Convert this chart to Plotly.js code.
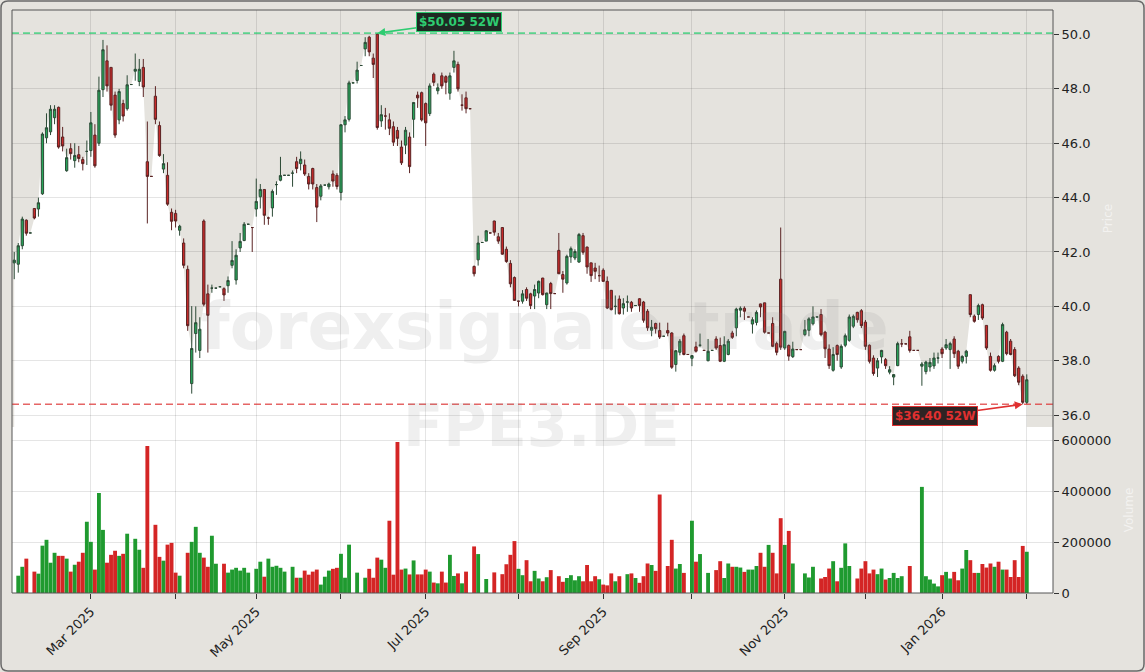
<!DOCTYPE html>
<html><head><meta charset="utf-8">
<script src="https://cdn.plot.ly/plotly-3.0.1.min.js"></script>
<style>html,body{margin:0;padding:0;background:#e5e3de;} #chart{width:1145px;height:672px;}</style>
</head><body><div id="chart"></div>
<script>
// ---- calendar (Xetra trading days) ----
const startDate = '2025-02-04';
const endDate = '2026-02-02';
const holidays = ['2025-04-18','2025-04-21','2025-05-01','2025-12-24','2025-12-25','2025-12-26','2025-12-31','2026-01-01'];
const tickMonths = ['2025-03','2025-04','2025-05','2025-06','2025-07','2025-08','2025-09','2025-10','2025-11','2025-12','2026-01','2026-02'];
const tickLabels = ['Mar 2025','','May 2025','','Jul 2025','','Sep 2025','','Nov 2025','','Jan 2026',''];

// ---- OHLC ----
const open = [
41.6,41.55,42.23,43.17,42.7,43.6,43.58,44.14,46.2,46.42,
46.94,47.32,46.23,44.99,45.8,45.36,45.58,45.4,45.7,45.73,
46.3,46.0,47.97,49.03,48.79,47.77,46.86,47.46,47.27,48.16,
48.65,48.27,48.79,45.32,44.78,47.73,46.65,45.05,44.82,43.46,
43.42,42.8,42.33,41.36,37.16,39.0,38.38,43.14,40.46,40.67,
40.67,40.72,40.65,40.76,41.51,40.97,42.15,42.42,43.02,42.9,
43.58,44.03,44.3,43.25,43.62,44.48,44.64,44.82,44.82,44.9,
45.32,45.25,45.2,44.78,45.07,44.37,44.05,44.46,44.4,44.87,
44.82,44.19,46.68,46.88,48.22,48.31,48.86,49.47,49.9,49.13,
50.01,46.82,47.0,46.86,46.61,46.47,45.86,45.93,46.23,46.88,
47.77,47.86,47.46,47.09,48.54,47.93,48.48,48.45,47.84,48.79,
48.9,47.4,47.67,47.27,41.47,41.71,42.35,42.4,42.7,43.14,
42.56,42.9,42.1,41.58,41.06,40.19,40.19,40.62,40.46,40.38,
40.49,41.04,40.06,40.84,40.47,42.06,41.17,40.86,41.82,41.78,
41.63,42.6,42.18,41.6,41.41,41.13,41.33,40.92,40.59,40.0,
40.27,39.94,40.16,40.15,40.03,40.28,40.16,39.82,39.12,39.37,
39.11,38.9,39.11,39.02,37.86,38.31,38.92,38.23,38.09,38.51,
38.57,38.38,38.0,38.38,38.8,38.56,37.98,38.23,39.02,39.21,
39.86,39.93,39.61,39.35,39.41,40.09,40.13,39.02,39.37,38.63,
41.0,38.47,38.56,38.15,38.41,38.41,38.96,39.12,39.36,39.61,
39.7,39.05,38.43,37.65,38.56,37.77,38.57,38.75,39.27,39.78,
39.84,39.42,38.57,38.1,37.73,38.14,38.04,37.58,37.4,37.82,
38.62,38.62,38.88,38.38,38.38,37.8,37.6,37.77,37.81,38.1,
38.43,38.47,38.41,38.8,38.35,37.98,38.16,40.43,39.64,39.7,
40.06,39.3,38.16,37.65,38.16,37.98,39.05,38.72,38.41,37.73,
37.43,36.47];
const high = [
42.0,42.33,43.3,43.2,42.7,43.6,44.0,46.4,47.1,47.4,
47.4,47.35,46.6,45.8,46.0,46.0,45.9,45.5,46.1,47.15,
46.7,48.45,49.8,49.6,48.8,47.9,48.0,47.6,48.5,48.16,
49.3,49.1,49.1,46.8,44.78,48.1,46.8,45.6,45.3,43.6,
43.55,43.0,42.5,41.5,40.01,40.0,39.6,43.2,40.8,40.8,
40.67,40.72,40.7,41.1,42.4,42.1,42.7,43.1,43.02,42.9,
44.7,44.5,44.3,43.3,44.3,44.6,45.5,44.82,44.82,45.0,
45.5,45.7,45.4,44.9,45.1,44.5,44.5,44.46,44.55,45.0,
44.9,46.7,47.0,48.3,48.22,49.0,48.86,49.9,49.95,49.3,
50.05,47.4,47.3,47.1,46.8,46.6,46.1,46.6,46.4,47.5,
47.9,47.9,47.5,48.2,48.6,48.2,48.6,48.5,48.6,49.4,
49.0,47.8,47.9,47.27,41.5,42.6,42.35,42.8,42.7,43.15,
42.7,42.9,42.2,41.7,41.1,40.2,40.6,40.7,40.5,40.8,
40.95,41.05,40.5,40.9,40.47,42.7,41.3,41.9,42.2,42.1,
42.7,42.7,42.2,41.6,41.6,41.5,41.4,41.1,40.6,40.4,
40.4,40.3,40.4,40.2,40.03,40.3,40.2,39.9,39.5,39.4,
39.4,38.9,39.4,39.05,38.4,38.8,39.0,38.23,38.2,38.7,
39.0,38.38,38.8,38.38,38.9,38.85,38.9,38.8,39.1,39.95,
40.0,40.0,39.61,39.6,39.85,40.1,40.13,39.02,39.6,38.7,
42.9,39.1,38.6,38.7,38.41,38.41,39.5,39.6,40.0,39.61,
39.9,39.1,38.6,38.5,38.6,38.6,39.0,39.7,39.7,39.8,
39.9,39.5,38.6,38.2,38.1,38.4,38.1,37.8,37.5,38.7,
38.8,38.62,39.1,38.38,38.38,37.95,38.0,38.1,38.3,38.3,
38.5,38.8,38.7,38.9,38.4,38.2,38.4,40.43,39.7,40.1,
40.1,39.3,38.3,37.9,38.2,39.4,39.1,38.8,38.5,37.8,
37.5,37.5];
const low = [
41.0,41.24,42.1,42.6,42.7,43.2,43.3,44.1,46.0,46.3,
46.7,45.8,45.7,44.95,45.4,45.1,45.3,45.0,45.2,45.5,
45.1,45.9,47.7,47.9,47.2,46.2,46.7,46.8,47.2,48.16,
48.3,48.1,47.7,43.05,44.78,46.7,45.5,44.9,43.7,42.8,
42.9,42.6,41.4,39.1,36.79,38.3,38.1,40.0,38.3,40.5,
40.67,40.72,40.2,40.5,41.4,40.8,42.0,42.4,43.02,42.0,
43.3,43.6,43.0,43.0,43.3,44.1,44.6,44.82,44.82,44.4,
44.9,45.0,44.8,44.3,44.3,43.1,43.9,44.46,44.3,44.4,
44.3,43.9,46.4,46.8,48.22,48.2,48.86,49.2,49.2,48.4,
46.5,46.6,46.5,46.3,45.9,45.9,45.2,45.6,44.9,46.2,
47.3,46.8,45.9,47.0,48.1,47.8,48.0,47.8,47.6,48.6,
47.9,47.2,47.1,47.27,41.1,41.5,42.35,42.4,42.7,42.6,
42.3,41.9,41.6,40.7,40.2,40.0,40.1,40.2,39.9,39.9,
40.3,40.4,39.9,39.9,40.47,41.2,40.5,40.8,41.6,41.7,
41.6,41.9,41.2,40.9,41.0,40.9,40.9,39.9,39.85,39.7,
39.7,39.7,39.8,39.8,40.03,39.8,39.4,39.1,38.9,39.0,
38.8,38.9,38.9,37.7,37.6,38.2,38.2,38.23,37.8,38.3,
38.5,38.38,37.98,38.38,38.4,37.95,37.95,38.2,38.8,38.9,
39.6,39.5,39.61,39.0,39.3,39.6,39.0,39.02,38.5,38.2,
38.4,38.4,38.0,38.1,38.41,38.41,38.9,38.9,39.3,39.61,
38.9,38.1,37.7,37.6,38.0,37.7,38.5,38.7,39.2,39.4,
39.2,38.4,37.9,37.45,37.4,37.9,37.7,37.5,37.1,37.8,
38.5,38.62,38.3,38.38,38.38,37.08,37.5,37.6,37.7,37.9,
38.1,38.4,37.7,38.1,37.7,37.9,37.9,39.6,39.4,39.5,
39.5,38.4,37.6,37.6,37.9,37.95,38.2,38.2,37.4,37.1,
36.4,36.4];
const close = [
41.7,42.23,43.21,42.69,42.7,43.25,43.81,46.34,46.57,47.25,
47.25,45.86,45.9,45.47,45.62,45.55,45.44,45.25,45.7,46.75,
45.17,47.95,49.44,48.11,47.4,46.3,47.9,47.0,48.15,48.16,
48.72,48.72,48.07,44.78,44.78,46.88,45.55,45.25,43.76,43.13,
43.14,42.95,41.51,39.29,38.45,39.4,39.16,40.08,39.67,40.67,
40.67,40.72,40.42,40.95,41.69,41.88,42.39,43.02,43.02,42.9,
43.86,44.3,43.35,43.25,44.23,44.48,44.81,44.82,44.82,44.9,
45.07,45.41,44.87,44.5,44.5,43.65,44.43,44.46,44.5,44.61,
44.41,46.68,46.86,48.22,48.22,48.69,48.86,49.71,49.36,48.9,
46.58,47.05,47.0,46.55,46.04,46.18,45.28,46.48,45.14,47.5,
47.67,46.86,46.75,48.11,48.24,48.04,48.11,48.24,48.48,49.03,
48.0,47.4,47.27,47.27,41.2,42.33,42.35,42.78,42.7,42.73,
42.4,41.92,41.65,40.83,40.22,40.19,40.46,40.3,40.03,40.62,
40.92,40.43,40.49,40.47,40.47,41.2,41.0,41.84,42.12,42.02,
42.64,41.99,41.45,41.13,41.29,41.13,40.92,39.94,39.88,40.0,
39.73,40.1,40.16,39.94,40.03,40.03,39.49,39.21,39.23,39.18,
38.87,38.9,39.02,37.76,38.37,38.72,38.23,38.23,38.19,38.35,
38.57,38.38,38.35,38.38,38.47,37.98,38.59,38.72,38.86,39.9,
39.93,39.82,39.61,39.51,39.78,39.98,39.05,39.02,38.53,38.31,
38.5,39.08,38.17,38.43,38.41,38.41,39.14,39.54,39.61,39.61,
38.96,38.44,37.82,38.23,38.23,38.53,38.92,39.61,39.63,39.51,
39.29,38.53,37.98,37.53,38.0,38.38,37.82,37.67,37.49,38.63,
38.62,38.62,38.38,38.38,38.38,37.88,37.95,37.94,38.1,38.1,
38.26,38.59,38.63,38.26,37.8,38.16,38.35,39.7,39.45,40.03,
39.57,38.47,37.65,37.82,37.98,39.33,38.26,38.23,37.45,37.21,
36.47,37.3];
const volume = [
0,68000,103000,135000,0,84000,76000,186000,209000,119000,
158000,146000,146000,135000,84000,111000,123000,158000,280000,201000,
92000,393000,248000,119000,150000,166000,146000,154000,233000,0,
213000,170000,99000,578000,0,268000,142000,127000,190000,197000,
80000,68000,0,158000,201000,260000,158000,139000,103000,225000,
115000,0,115000,80000,92000,99000,88000,99000,80000,0,
95000,123000,64000,135000,103000,107000,99000,84000,0,103000,
60000,60000,88000,72000,84000,92000,33000,64000,88000,95000,
99000,154000,60000,190000,0,80000,0,60000,95000,60000,
139000,131000,99000,284000,72000,593000,92000,96000,73000,128000,
73000,73000,92000,84000,41000,38000,84000,41000,150000,67000,
77000,38000,84000,0,183000,153000,0,55000,0,81000,
0,74000,113000,150000,204000,95000,70000,129000,46000,87000,
57000,46000,62000,90000,0,66000,44000,59000,70000,50000,
66000,46000,110000,46000,66000,54000,33000,30000,77000,46000,
66000,0,74000,77000,59000,40000,66000,116000,110000,87000,
387000,0,106000,209000,96000,114000,79000,0,284000,123000,
153000,0,79000,0,90000,125000,59000,116000,103000,103000,
100000,83000,92000,92000,106000,158000,103000,189000,158000,77000,
294000,189000,244000,116000,0,0,77000,61000,103000,0,
57000,63000,96000,125000,46000,99000,195000,106000,0,57000,
96000,125000,77000,92000,74000,96000,53000,59000,79000,59000,
66000,0,106000,0,0,417000,66000,53000,37000,26000,
70000,83000,57000,83000,50000,96000,169000,129000,79000,79000,
114000,100000,116000,103000,123000,92000,92000,63000,129000,63000,
185000,162000];

// ---- build trading calendar ----
const dates = [];
(function(){
  let d = new Date(startDate + 'T00:00:00Z');
  const end = new Date(endDate + 'T00:00:00Z');
  while (d <= end) {
    const s = d.toISOString().slice(0,10);
    const wd = d.getUTCDay();
    if (wd !== 0 && wd !== 6 && holidays.indexOf(s) < 0) dates.push(s);
    d = new Date(d.getTime() + 86400000);
  }
})();
const N = close.length;
const idx = close.map((_, i) => i);
const tickIdx = tickMonths.map(m => dates.findIndex(s => s.startsWith(m)));

// ---- derived ----
const hi52 = Math.max.apply(null, high);
const lo52 = Math.min.apply(null, low);
const hiIdx = high.indexOf(hi52);
const loIdx = low.indexOf(lo52);
const upCol = '#1f9a2f', dnCol = '#d42525';
const volColors = close.map((c, i) => c >= open[i] ? upCol : dnCol);
const yMin = lo52 * 0.977, yMax = hi52 * 1.017;
const fillBase = yMin - 3;

// price-area fill path (white under close)
const fillPath = 'M ' + idx.map(i => i + ',' + close[i]).join(' L ') +
  ' L ' + (N - 1) + ',' + fillBase + ' L 0,' + fillBase + ' Z';

// layout geometry
const W = 1145, H = 672, mL = 12, mR = 92, mT = 10, mB = 79;
const pw = W - mL - mR, ph = H - mT - mB;
const split = 166 / ph;   // price / volume boundary on a whole pixel
const px = x => (x - mL) / pw, py = y => (H - mB - y) / ph;
function roundRect(x0, y0, x1, y1, r) {
  const p = (x, y) => px(x) + ',' + py(y);
  return 'M ' + p(x0 + r, y0) + ' L ' + p(x1 - r, y0) + ' Q ' + p(x1, y0) + ' ' + p(x1, y0 + r) +
    ' L ' + p(x1, y1 - r) + ' Q ' + p(x1, y1) + ' ' + p(x1 - r, y1) +
    ' L ' + p(x0 + r, y1) + ' Q ' + p(x0, y1) + ' ' + p(x0, y1 - r) +
    ' L ' + p(x0, y0 + r) + ' Q ' + p(x0, y0) + ' ' + p(x0 + r, y0) + ' Z';
}

const FONT = 'DejaVu Sans, Verdana, sans-serif';
const gridCol = 'rgba(0,0,0,0.10)';

const traces = [
  {
    type: 'candlestick', x: idx, open: open, high: high, low: low, close: close,
    xaxis: 'x', yaxis: 'y',
    increasing: { line: { color: '#2c4a36', width: 1 }, fillcolor: '#27a559' },
    decreasing: { line: { color: '#5a2323', width: 1 }, fillcolor: '#c92a2a' },
    whiskerwidth: 0, showlegend: false, hoverinfo: 'skip'
  },
  {
    type: 'bar', x: idx, y: volume, xaxis: 'x', yaxis: 'y2',
    marker: { color: volColors, line: { width: 0 } },
    showlegend: false, hoverinfo: 'skip'
  }
];

const layout = {
  width: W, height: H, autosize: false,
  margin: { l: mL, r: mR, t: mT, b: mB, pad: 0 },
  paper_bgcolor: '#e5e3de', plot_bgcolor: '#ffffff',
  font: { family: FONT, size: 13, color: '#222' },
  showlegend: false, bargap: 0.04, boxgap: 0.2,
  xaxis: {
    type: 'linear', range: [-0.55, 257.5], anchor: 'y2',
    tickmode: 'array', tickvals: tickIdx, ticktext: tickLabels,
    tickangle: -45, ticks: 'outside', ticklen: 5, tickcolor: '#333',
    showgrid: true, gridcolor: gridCol, zeroline: false, showline: false,
    rangeslider: { visible: false }, tickfont: { family: FONT, size: 13, color: '#222' }
  },
  yaxis: {
    domain: [split, 1], side: 'right', anchor: 'x', range: [yMin, yMax],
    tick0: 36, dtick: 2, tickformat: '.1f', ticks: 'outside', ticklen: 5, tickcolor: '#333',
    showgrid: true, gridcolor: gridCol, zeroline: false, showline: false,
    tickfont: { family: FONT, size: 13, color: '#222' },
    title: { text: 'Price', font: { family: FONT, size: 12, color: 'rgba(255,255,255,0.55)' }, standoff: 14 }
  },
  yaxis2: {
    domain: [0, split], side: 'right', anchor: 'x', range: [0, Math.max.apply(null, volume) * 1.1],
    tickmode: 'array', tickvals: [0, 200000, 400000, 600000], tickformat: 'd',
    ticks: 'outside', ticklen: 5, tickcolor: '#333',
    showgrid: true, gridcolor: gridCol, zeroline: false, showline: false,
    tickfont: { family: FONT, size: 13, color: '#222' },
    title: { text: 'Volume', font: { family: FONT, size: 12, color: 'rgba(255,255,255,0.55)' }, standoff: 14 }
  },
  shapes: [
    { type: 'rect', xref: 'x domain', yref: 'y domain', x0: 0, x1: 1, y0: 0, y1: 1,
      fillcolor: '#e5e3de', line: { width: 0 }, layer: 'below' },
    { type: 'path', xref: 'x', yref: 'y', path: fillPath, fillcolor: '#ffffff',
      line: { width: 0 }, layer: 'below' },
    { type: 'line', xref: 'x domain', yref: 'y', x0: 0, x1: 1, y0: hi52, y1: hi52,
      line: { color: 'rgba(46,204,113,0.75)', width: 1.6, dash: '7px,4px' } },
    { type: 'line', xref: 'x domain', yref: 'y', x0: 0, x1: 1, y0: lo52, y1: lo52,
      line: { color: 'rgba(220,50,50,0.75)', width: 1.6, dash: '7px,4px' } },
    { type: 'rect', xref: 'paper', yref: 'paper', x0: 0, x1: 1, y0: 0, y1: 1,
      line: { color: '#555', width: 1 }, fillcolor: 'rgba(0,0,0,0)', layer: 'above' },
    { type: 'path', xref: 'paper', yref: 'paper', path: roundRect(1, 1, W - 1, H - 1, 7),
      line: { color: '#6a6a6a', width: 1.5 }, fillcolor: 'rgba(0,0,0,0)', layer: 'above' }
  ],
  annotations: [
    { xref: 'paper', yref: 'paper', x: px(545), y: py(326), text: '<b>forexsignale.trade</b>',
      showarrow: false, font: { family: FONT, size: 66, color: 'rgba(128,128,128,0.13)' } },
    { xref: 'paper', yref: 'paper', x: px(541), y: py(462), text: '<b>FPE3.DE</b>',
      showarrow: false, font: { family: FONT, size: 59, color: 'rgba(128,128,128,0.13)' } },
    { xref: 'x', yref: 'y', x: hiIdx, y: hi52, text: '<b>$' + hi52.toFixed(2) + ' 52W</b>',
      showarrow: true, ax: 82, ay: -11, arrowcolor: '#2ecc71', arrowwidth: 1.6, arrowhead: 2, arrowsize: 1,
      font: { family: FONT, size: 12, color: '#2ecc71' }, bgcolor: '#1e2a23', bordercolor: '#2ecc71',
      borderwidth: 1, borderpad: 2 },
    { xref: 'x', yref: 'y', x: loIdx, y: lo52, text: '<b>$' + lo52.toFixed(2) + ' 52W</b>',
      showarrow: true, ax: -88, ay: 12, arrowcolor: '#e03030', arrowwidth: 1.6, arrowhead: 2, arrowsize: 1,
      font: { family: FONT, size: 12, color: '#e03030' }, bgcolor: '#2e2323', bordercolor: '#e03030',
      borderwidth: 1, borderpad: 2 }
  ]
};

Plotly.newPlot('chart', traces, layout, { staticPlot: true, displayModeBar: false });
</script>
</body></html>
